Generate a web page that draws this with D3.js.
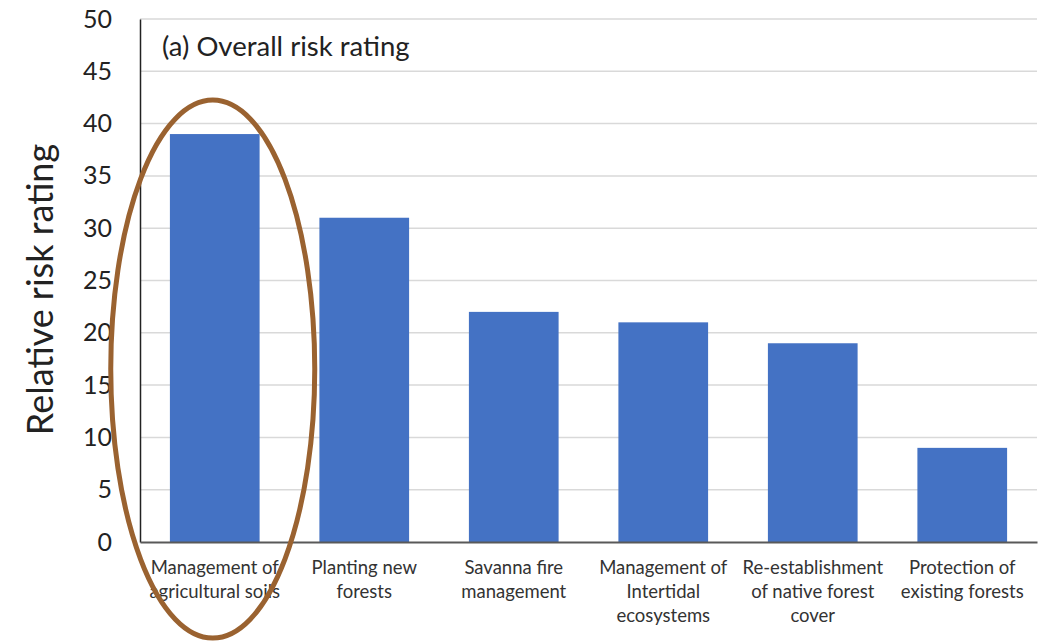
<!DOCTYPE html>
<html>
<head>
<meta charset="utf-8">
<script src="https://cdn.jsdelivr.net/npm/d3@7/dist/d3.min.js"></script>
<style>
  html, body { margin: 0; padding: 0; background: #fff; }
  svg { display: block; }
  text { font-family: Lato, "Open Sans", sans-serif; }
</style>
</head>
<body>
<svg id="chart" width="1046" height="641"></svg>
<script>
// Relative risk rating by sequestration activity
const categories = [
  "Management of\nagricultural soils",
  "Planting new\nforests",
  "Savanna fire\nmanagement",
  "Management of\nIntertidal\necosystems",
  "Re-establishment\nof native forest\ncover",
  "Protection of\nexisting forests"
];
const riskValues = [39, 31, 22, 21, 19, 9];
const yTicks = [0, 5, 10, 15, 20, 25, 30, 35, 40, 45, 50];
const panelTitle = "(a) Overall risk rating";
const yAxisTitle = "Relative risk rating";

const svg = d3.select("#chart");
const margin = { left: 140, right: 9, top: 19, bottom: 99 };
const W = 1046, H = 641;
const plotW = W - margin.left - margin.right;
const plotH = H - margin.top - margin.bottom;

const g = svg.append("g").attr("transform", `translate(${margin.left},${margin.top})`);

const x = d3.scaleBand().domain(categories).range([0, plotW]).paddingInner(0.4).paddingOuter(0.2);
const y = d3.scaleLinear().domain([0, 50]).range([plotH, 0]);

// horizontal gridlines
g.append("g")
  .selectAll("line")
  .data(yTicks.filter(t => t > 0))
  .join("line")
  .attr("x1", 0).attr("x2", plotW)
  .attr("y1", d => y(d)).attr("y2", d => y(d))
  .attr("stroke", "#d9d9d9").attr("stroke-width", 1.5);

// bars
g.append("g")
  .selectAll("rect")
  .data(categories)
  .join("rect")
  .attr("x", d => x(d))
  .attr("width", x.bandwidth())
  .attr("y", (d, i) => y(riskValues[i]))
  .attr("height", (d, i) => plotH - y(riskValues[i]))
  .attr("fill", "#4472c4");

// y axis
const yAxis = g.append("g")
  .call(d3.axisLeft(y).tickValues(yTicks).tickSize(0).tickPadding(28));
yAxis.select(".domain").attr("stroke", "#222").attr("stroke-width", 1.5);
yAxis.selectAll(".tick text")
  .attr("font-size", 25).attr("fill", "#222")
  .attr("font-family", "Lato, sans-serif");

// x axis baseline
const xAxis = g.append("g")
  .attr("transform", `translate(0,${plotH})`)
  .call(d3.axisBottom(x).tickSize(0).tickFormat(""));
xAxis.select(".domain").attr("stroke", "#595959").attr("stroke-width", 2);

// category labels, one tspan per line
const labels = g.append("g")
  .selectAll("text")
  .data(categories)
  .join("text")
  .attr("text-anchor", "middle")
  .attr("font-size", 18.5)
  .attr("fill", "#333")
  .attr("transform", d => `translate(${x(d) + x.bandwidth() / 2},${plotH + 32})`);
labels.selectAll("tspan")
  .data(d => d.split("\n"))
  .join("tspan")
  .attr("x", 0)
  .attr("dy", (d, i) => i === 0 ? 0 : 24)
  .text(d => d);

// panel title
g.append("text")
  .attr("x", 22).attr("y", 37)
  .attr("font-size", 27.5).attr("fill", "#222")
  .text(panelTitle);

// y axis title
svg.append("text")
  .attr("transform", `translate(53,${margin.top + plotH / 2 + 9}) rotate(-90)`)
  .attr("text-anchor", "middle")
  .attr("font-size", 36).attr("fill", "#222")
  .text(yAxisTitle);

// highlight ring round the first activity
const first = categories[0];
g.append("ellipse")
  .attr("cx", x(first) + x.bandwidth() / 2 - 2)
  .attr("cy", y(riskValues[0]) + 235)
  .attr("rx", 102)
  .attr("ry", 269)
  .attr("fill", "none")
  .attr("stroke", "#9a6230")
  .attr("stroke-width", 5);
</script>
</body>
</html>
